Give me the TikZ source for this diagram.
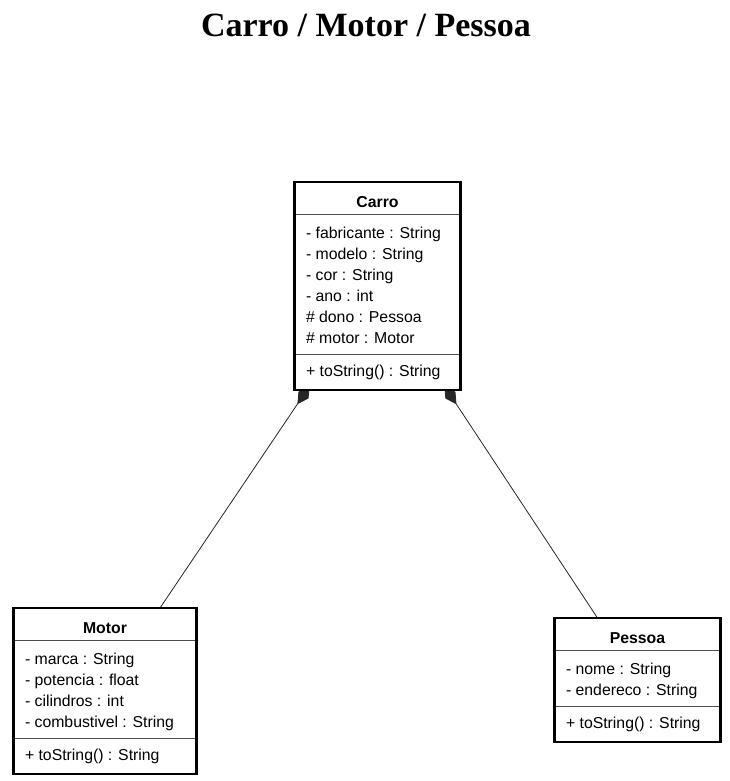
\documentclass[tikz,border=0pt]{standalone}
\usepackage{fontspec}
\setmainfont{Liberation Serif}
\newfontfamily\umlfont{Liberation Sans}
\usetikzlibrary{positioning,calc,arrows.meta,shapes.multipart,backgrounds}
\newcommand{\topo}{\rule{0pt}{18.5pt}} % title row strut
\newcommand{\acima}{\rule{0pt}{17pt}} % first attribute line
\newcommand{\abaixo}{\rule[-4pt]{0pt}{4pt}} % last attribute line
\newcommand{\metodo}{\rule[-6pt]{0pt}{21.5pt}} % method row strut
\tikzset{
    classe/.style={rectangle split, rectangle split parts=3,
        rectangle split part align={center,left,left},
        draw=black!70, line width=0.7pt, fill=white, align=left,
        font=\umlfont\fontsize{15.8}{21}\selectfont,
        inner xsep=11pt, inner ysep=6.5pt, anchor=north}, % class box
    moldura/.style={draw=black, line width=2.6pt}, % thick outer frame
    composicao/.style={draw=black!85, line width=0.8pt,
        -{Diamond[length=22pt,width=12pt]}}, % composition
}

\begin{document}
\begin{tikzpicture}[x=1pt,y=-1pt]
  \useasboundingbox (0,0) rectangle (730,781);

  \node (titulo) at (366,25) {\bfseries\fontsize{34}{40}\selectfont Carro / Motor / Pessoa};

  % classes
  \node[classe, minimum width=165pt] (carro) at (377.5,182)
    {\topo\textbf{Carro}
     \nodepart{second}\acima- fabricante : String\\
       - modelo : String\\
       - cor : String\\
       - ano : int\\
       \# dono : Pessoa\\
       \# motor : Motor\abaixo
     \nodepart{third}\metodo+ toString() : String};

  \node[classe, minimum width=182pt] (motor) at (105,608)
    {\topo\textbf{Motor}
     \nodepart{second}\acima- marca : String\\
       - potencia : float\\
       - cilindros : int\\
       - combustivel : String\abaixo
     \nodepart{third}\metodo+ toString() : String};

  \node[classe, minimum width=165pt] (pessoa) at (637.5,618)
    {\topo\textbf{Pessoa}
     \nodepart{second}\acima- nome : String\\
       - endereco : String\abaixo
     \nodepart{third}\metodo+ toString() : String};

  \foreach \n in {carro,motor,pessoa}
    \draw[moldura] (\n.north west) rectangle (\n.south east);

  % composicoes
  \coordinate (cl) at ([shift={(15,-4)}]carro.south west);
  \coordinate (cr) at ([shift={(-16,-4)}]carro.south east);
  \begin{scope}[on background layer]
    \draw[composicao] ([xshift=55pt]motor.north) -- (cl);
    \draw[composicao] ([xshift=-40pt]pessoa.north) -- (cr);
  \end{scope}
\end{tikzpicture}
\end{document}
